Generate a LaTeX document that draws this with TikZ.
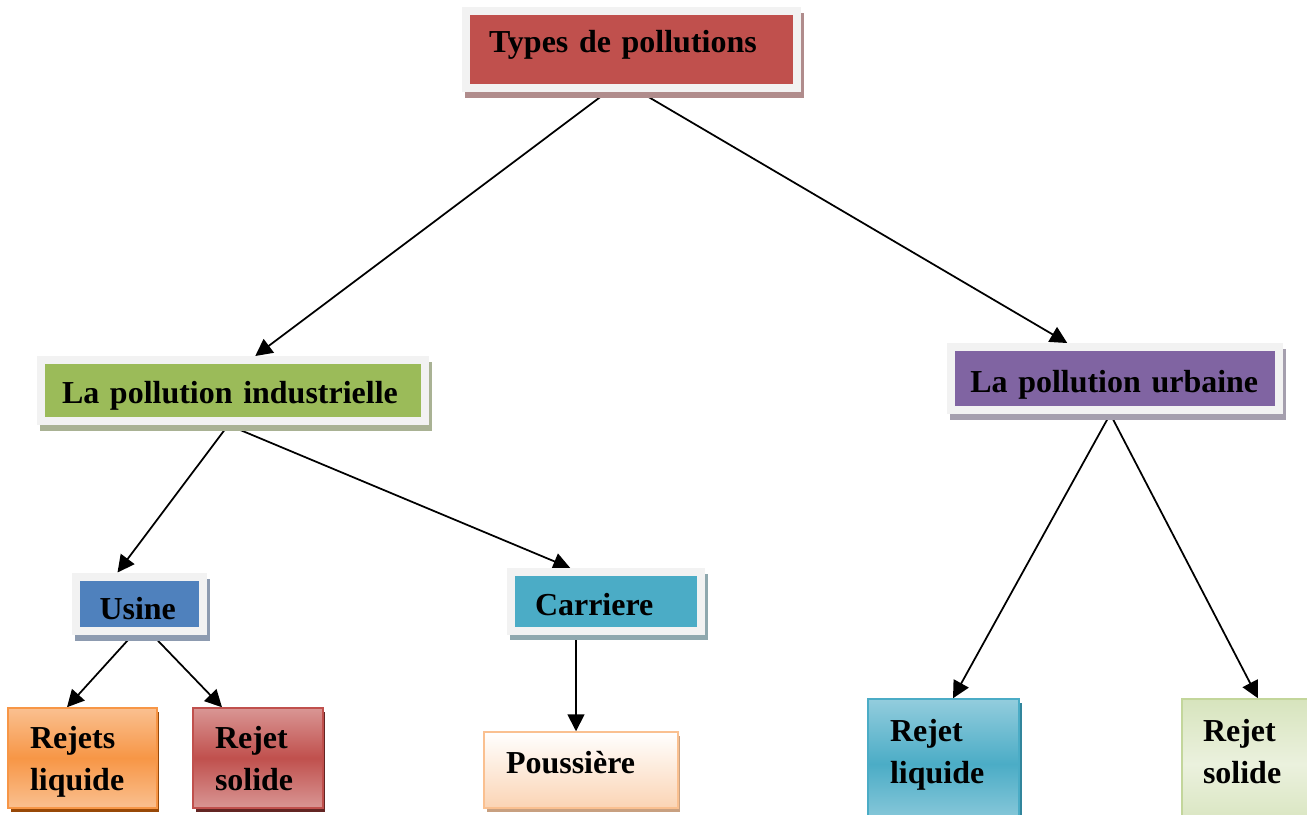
\documentclass[tikz,border=0pt]{standalone}
\usepackage{fontspec}
\setmainfont{Liberation Serif}
\usepackage{tikz}
\usetikzlibrary{positioning,shapes,calc}
\usetikzlibrary{arrows.meta,shadows,backgrounds}
\definecolor{boxrim}{HTML}{F2F2F2}
\definecolor{redfill}{HTML}{C0504D}
\definecolor{redshade}{HTML}{B08C8C}
\definecolor{greenfill}{HTML}{9BBB59}
\definecolor{greenshade}{HTML}{A9B294}
\definecolor{violetfill}{HTML}{8064A2}
\definecolor{violetshade}{HTML}{A59FAE}
\definecolor{bluefill}{HTML}{4F81BD}
\definecolor{blueshade}{HTML}{8D9BB0}
\definecolor{tealfill}{HTML}{4BACC6}
\definecolor{tealshade}{HTML}{8FA8AE}
\definecolor{orangemid}{HTML}{F79646}
\definecolor{orangelight}{HTML}{FAC090}
\definecolor{orangedark}{HTML}{984807}
\definecolor{redlight}{HTML}{D99694}
\definecolor{reddark}{HTML}{632523}
\definecolor{peach}{HTML}{FBD4B4}
\definecolor{peachrim}{HTML}{FAC090}
\definecolor{peachdark}{HTML}{C8A080}
\definecolor{cyanlight}{HTML}{93CDDD}
\definecolor{cyandark}{HTML}{31859C}
\definecolor{limelight}{HTML}{EBF1DE}
\definecolor{limemid}{HTML}{D7E4BD}
\definecolor{limerim}{HTML}{C3D69B}
\tikzset{box/.style 2 args={rectangle, fill=#1, draw=boxrim, line width=0.16cm, inner sep=0pt,
            align=left, font=\fontsize{18.2}{23.9}\selectfont\bfseries, text height=0.44cm, text depth=0cm,
            drop shadow={shadow xshift=0.06cm, shadow yshift=-0.12cm, fill=#2, draw=#2, line width=0.16cm, opacity=1}},
         tile/.style={rectangle, line width=0.03cm, inner sep=0pt, align=left,
            font=\fontsize{18.2}{23.9}\selectfont\bfseries, text height=0.44cm},
         edge/.style={->, >={Triangle[length=0.34cm,width=0.34cm]}, line width=0.035cm}
}

\begin{document}
\begin{tikzpicture}[x=0.02cm,y=-0.02cm]
  \path[use as bounding box, clip] (0,0) rectangle (1307,814);
  % top level
  \node[box={redfill}{redshade}, minimum width=6.62cm, minimum height=1.54cm, text width=5.7cm, text depth=0.30cm]
        (types) at (631.5,49.5) {Types de pollutions};
  % second level
  \node[box={greenfill}{greenshade}, minimum width=7.69cm, minimum height=1.22cm, text width=6.85cm, text height=0.5cm]
        (indus) at (233.25,390.5) {La pollution industrielle};
  \node[box={violetfill}{violetshade}, minimum width=6.57cm, minimum height=1.26cm, text width=5.8cm, text height=0.54cm]
        (urbain) at (1115.25,378.5) {La pollution urbaine};
  % third level
  \node[box={bluefill}{blueshade}, minimum width=2.54cm, minimum height=1.08cm, text width=1.6cm, text height=0.62cm]
        (usine) at (139.5,603.5) {Usine};
  \node[box={tealfill}{tealshade}, minimum width=3.81cm, minimum height=1.17cm, text width=2.85cm, text height=0.55cm]
        (carriere) at (606.25,601.25) {Carriere};
  % leaves
  \node[tile, draw=orangemid, top color=orangelight, bottom color=orangelight, middle color=orangemid,
        drop shadow={shadow xshift=0.05cm, shadow yshift=-0.08cm, fill=orangedark, opacity=1},
        minimum width=2.98cm, minimum height=2cm, text width=2.1cm, text depth=0.84cm]
        (liqA) at (82.5,758) {Rejets\\liquide};
  \node[tile, draw=redfill, top color=redlight, bottom color=redlight, middle color=redfill,
        drop shadow={shadow xshift=0.05cm, shadow yshift=-0.08cm, fill=reddark, opacity=1},
        minimum width=2.6cm, minimum height=2cm, text width=1.72cm, text depth=0.84cm]
        (solA) at (258,758) {Rejet\\solide};
  \node[tile, draw=peachrim, top color=white, bottom color=peach,
        drop shadow={shadow xshift=0.05cm, shadow yshift=-0.08cm, fill=peachdark, opacity=1},
        minimum width=3.88cm, minimum height=1.52cm, text width=3cm, text depth=0.32cm]
        (pous) at (581,770) {Poussière};
  \node[tile, draw=tealfill, top color=cyanlight, bottom color=cyanlight, middle color=tealfill,
        drop shadow={shadow xshift=0.05cm, shadow yshift=-0.08cm, fill=cyandark, opacity=1},
        minimum width=3.02cm, minimum height=2.6cm, text width=2.14cm, text depth=1.36cm]
        (liqB) at (943.5,764) {Rejet\\liquide};
  \node[tile, draw=limerim, top color=limemid, bottom color=limemid, middle color=limelight,
        minimum width=2.96cm, minimum height=2.6cm, text width=2.12cm, text depth=1.36cm]
        (solB) at (1256,764) {Rejet\\solide};
  % connectors
  \begin{scope}[on background layer]
    \draw[edge] ($(types.south)+(-24.5,0)$) -- ($(indus.north)+(22,0)$);
    \draw[edge] ($(types.south)+(8.5,0)$) -- ($(urbain.north)+(-48,0)$);
    \draw[edge] ($(indus.south)+(-5,0)$) -- ($(usine.north)+(-22,0)$);
    \draw[edge] ($(indus.south)+(-5,0)$) -- ($(carriere.north)+(-36,0)$);
    \draw[edge] ($(usine.south)+(-6.5,0)$) -- ($(liqA.north)+(-15.5,0)$);
    \draw[edge] ($(usine.south)+(12.5,0)$) -- ($(solA.north)+(-36,0)$);
    \draw[edge] ($(carriere.south)+(-30.25,0)$) -- ($(pous.north)+(-5,0)$);
    \draw[edge] ($(urbain.south)+(-5,0)$) -- ($(liqB.north)+(9.5,0)$);
    \draw[edge] ($(urbain.south)+(-5,0)$) -- ($(solB.north)+(2,0)$);
  \end{scope}
\end{tikzpicture}
\end{document}
